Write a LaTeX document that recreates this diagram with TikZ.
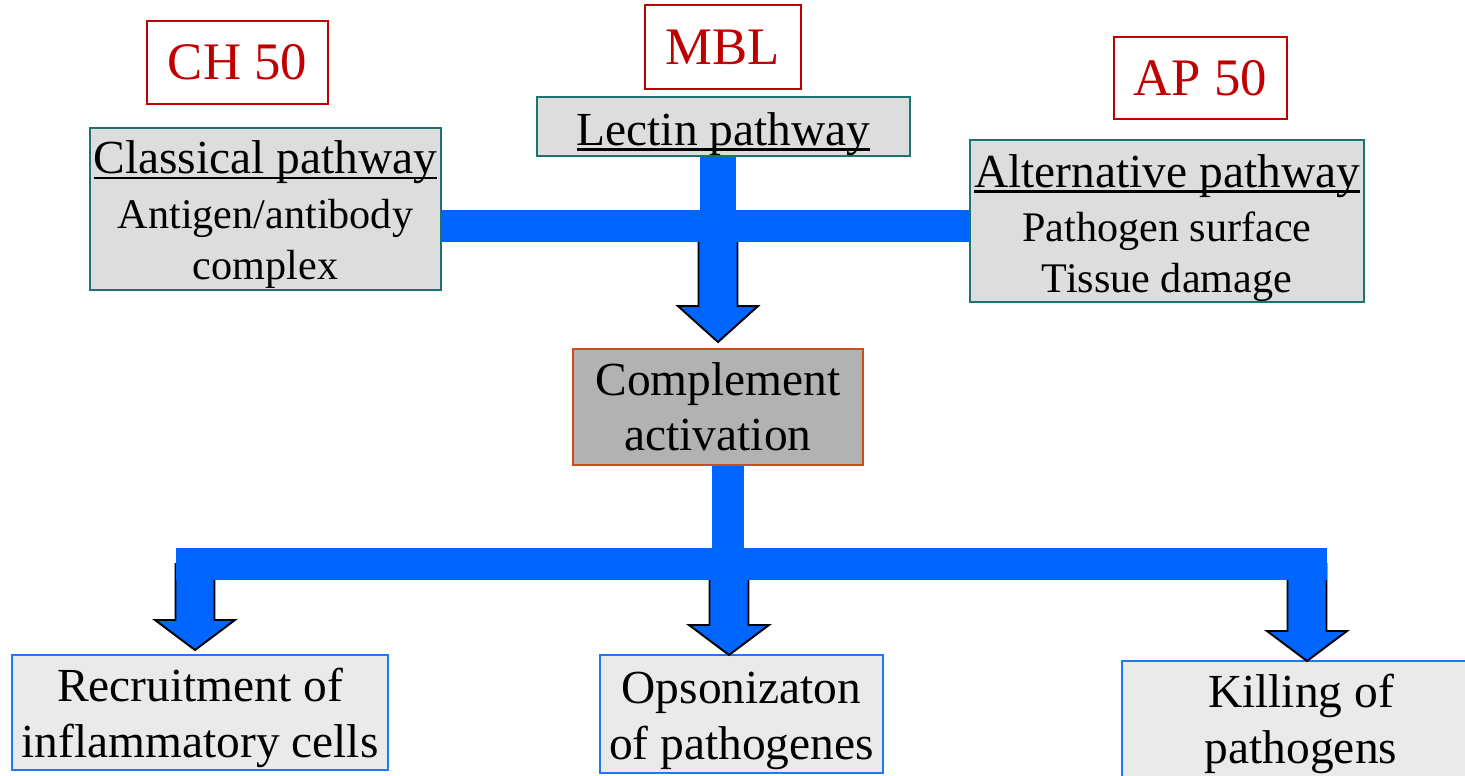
\documentclass[tikz,border=0pt]{standalone}
\usepackage{fontspec}
\setmainfont{Liberation Serif}
\usetikzlibrary{calc}

\definecolor{flowblue}{RGB}{0,102,255}
\definecolor{boxteal}{RGB}{30,115,110}
\definecolor{assayred}{RGB}{192,0,0}
\definecolor{hubred}{RGB}{205,75,30}
\definecolor{outblue}{RGB}{30,120,255}
\definecolor{pathgray}{RGB}{221,221,221}
\definecolor{hubgray}{RGB}{178,178,178}
\definecolor{outgray}{RGB}{234,234,234}

% underline that runs through the descenders
\newcommand{\titleline}[1]{\setbox0\hbox{#1}\rlap{\rule[-2.9pt]{\wd0}{1.3pt}}\box0}
% extra height on a first line, pushes the text down in its box
\newcommand{\toplift}[1]{\rule{0pt}{#1}}

% block arrow: #2 gives the top (only y is used), #3 the tip
\newcommand{\blockarrow}[3][0.6cm]{%
  \filldraw[arrowbody] let \p1=(#2), \p2=(#3) in
    (\x2-0.39cm,\y1) -- (\x2-0.39cm,\y2+#1) -- (\x2-0.8cm,\y2+#1) -- (\x2,\y2)
    -- (\x2+0.8cm,\y2+#1) -- (\x2+0.39cm,\y2+#1) -- (\x2+0.39cm,\y1) -- cycle;}

\begin{document}
\begin{tikzpicture}[x=0.02cm, y=-0.02cm,
  pathbox/.style={draw=boxteal, fill=pathgray, line width=1.1pt, inner sep=0pt,
    align=center, font=\fontsize{24}{29}\selectfont},
  assay/.style={draw=assayred, fill=white, text=assayred, line width=0.9pt,
    inner sep=0pt, font=\fontsize{30}{36}\selectfont},
  hubbox/.style={draw=hubred, fill=hubgray, line width=1.1pt, inner sep=0pt,
    align=center, font=\fontsize{27}{31}\selectfont},
  outbox/.style={draw=outblue, fill=outgray, line width=1.1pt, inner sep=0pt,
    align=center, font=\fontsize{27}{32}\selectfont},
  bar/.style={draw=flowblue, line width=18.1pt},
  arrowbody/.style={fill=flowblue, draw=black, line width=1.1pt, line join=miter}]
\useasboundingbox (0,0) rectangle (1465,776);

% assays
\node[assay, minimum width=3.62cm, minimum height=1.66cm] (ch50) at (237.5,62.5) {CH 50};
\node[assay, minimum width=3.12cm, minimum height=1.68cm] (mbl) at (723,47) {MBL};
\node[assay, minimum width=3.46cm, minimum height=1.64cm] (ap50) at (1200.5,78) {AP 50};

% pathways
\node[pathbox, minimum width=7.02cm, minimum height=3.24cm] (classical) at (265.5,209)
  {{\fontsize{27}{30}\selectfont\toplift{25pt}\titleline{Classical pathway}}\\[2pt]
   Antigen/antibody\\ complex};
\node[pathbox, minimum width=7.46cm, minimum height=1.18cm] (lectin) at (723.5,126.5)
  {\fontsize{27}{30}\selectfont\toplift{27.5pt}\titleline{Lectin pathway}};
\node[pathbox, minimum width=7.88cm, minimum height=3.2cm] (alternative) at (1167,221)
  {{\fontsize{27}{30}\selectfont\toplift{27pt}\titleline{Alternative pathway}}\\[2pt]
   Pathogen surface\\ Tissue damage};

% activation
\node[hubbox, minimum width=5.8cm, minimum height=2.32cm] (complement) at (718,407)
  {Complement\\ activation};

% outcomes
\node[outbox, minimum width=7.52cm, minimum height=2.3cm] (recruit) at (200,712.5)
  {\toplift{25.5pt}Recruitment of\\ inflammatory cells};
\node[outbox, minimum width=5.66cm, minimum height=2.36cm] (opson) at (741.5,714)
  {\toplift{25.5pt}Opsonizaton\\ of pathogenes};
\node[outbox, minimum width=7.16cm, minimum height=2.52cm] (killing) at (1301,724)
  {Killing of\\ pathogens};

\coordinate (topjoin) at (718,226);
\coordinate (acttip) at ([yshift=3.4pt]complement.north);
\coordinate (lowjoin) at (728,564);
\coordinate (barwest) at (175.5,564);
\coordinate (bareast) at (1326.5,564);
\coordinate (rectip) at (195,650);
\coordinate (opstip) at (729,655);
\coordinate (killtip) at (1307,661);

% into complement activation
\draw[flowblue, line width=21pt] (lectin.south -| topjoin) -- (topjoin);
\blockarrow[0.72cm]{topjoin}{acttip}
\draw[bar] (classical.east |- topjoin) -- (alternative.west |- topjoin);

% out of complement activation
\draw[bar] (complement.south -| lowjoin) -- (lowjoin);
\blockarrow{lowjoin}{rectip}
\blockarrow{lowjoin}{opstip}
\blockarrow{lowjoin}{killtip}
\draw[bar] (barwest) -- (bareast);
\end{tikzpicture}
\end{document}
